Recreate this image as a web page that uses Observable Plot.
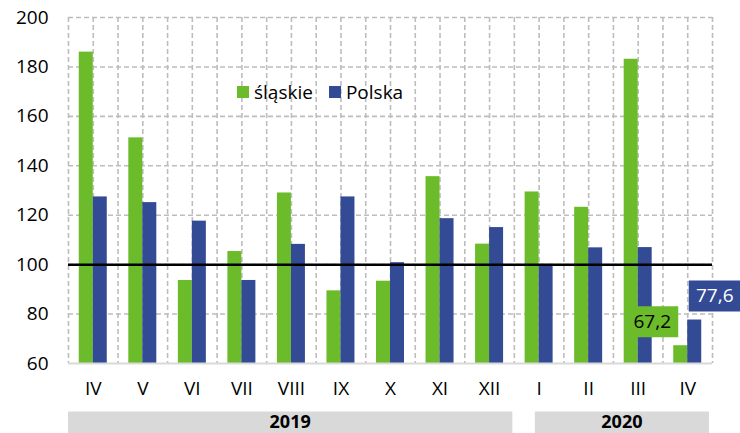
<!DOCTYPE html>
<html><head><meta charset="utf-8">
<script src="https://cdn.jsdelivr.net/npm/d3@7"></script>
<script src="https://cdn.jsdelivr.net/npm/@observablehq/plot@0.6"></script>
<style>
html,body{margin:0;padding:0;background:#fff;overflow:hidden;}
#wrap{position:relative;width:740px;height:433px;font-family:"Open Sans",sans-serif;}
.legend{position:absolute;left:237px;top:79px;display:flex;align-items:center;font-size:19px;color:#000;white-space:nowrap;}
.legend .sw{display:inline-block;width:12px;height:12px;margin-right:5px;}
.legend .it{display:flex;align-items:center;margin-right:16px;}
</style></head><body><div id="wrap"></div>
<script>
// ---- data ----
const months = ["IV","V","VI","VII","VIII","IX","X","XI","XII","I","II","III","IV"];
const years  = [2019,2019,2019,2019,2019,2019,2019,2019,2019,2020,2020,2020,2020];
const slaskie = [186.0,151.3,93.6,105.3,129.0,89.4,93.3,135.6,108.3,129.4,123.2,183.1,67.2];
const polska  = [127.4,125.1,117.6,93.6,108.2,127.4,100.8,118.6,115.0,100.1,106.8,106.9,77.6];
const seriesNames = ["śląskie","Polska"];
const seriesColors = ["#6bbb2b","#334a94"];
const yTicks = [60,80,100,120,140,160,180,200];
const referenceValue = 100;
const yearNames = [2019, 2020];

// ---- layout ----
const W = 740, H = 433;
const mL = 68, mR = 28, mT = 17, mB = 70;
const idx = d3.range(months.length);
const bw = (W - mL - mR) / months.length;
const barW = 14;
const rowsS = idx.map(i => ({i, v: slaskie[i]}));
const rowsP = idx.map(i => ({i, v: polska[i]}));
const last = months.length - 1;
const fmt = v => v.toFixed(1).replace(".", ",");
const boxSym = {draw(ctx){ ctx.rect(-26, -15.5, 52, 31); }};
const yMin = yTicks[0];
const gridStyle = {stroke: "#bdbdbd", strokeWidth: 1.6, strokeDasharray: "5,3"};

const svg = Plot.plot({
  width: W, height: H,
  marginLeft: mL, marginRight: mR, marginTop: mT, marginBottom: mB,
  style: {fontFamily: "Open Sans, sans-serif", fontSize: "19px", color: "#000", background: "#fff", overflow: "visible"},
  x: {type: "band", domain: idx, padding: 0, round: false, tickSize: 0, tickPadding: 18, tickFormat: i => months[i], label: null},
  y: {domain: [yTicks[0], yTicks[yTicks.length-1]], ticks: yTicks, tickSize: 0, tickPadding: 20, label: null},
  marks: [
    Plot.ruleY(yTicks.filter(t => t > yMin), {y: d => d, ...gridStyle}),
    Plot.ruleX(idx, {x: d => d, ...gridStyle}),
    Plot.ruleX(idx, {x: d => d, dx: -bw/2, ...gridStyle}),
    Plot.ruleX([last], {x: d => d, dx: bw/2, ...gridStyle}),
    Plot.barY(rowsS, {x: "i", y1: () => yMin, y2: "v", fill: seriesColors[0], insetLeft: bw/2 - barW, insetRight: bw/2}),
    Plot.barY(rowsP, {x: "i", y1: () => yMin, y2: "v", fill: seriesColors[1], insetLeft: bw/2, insetRight: bw/2 - barW}),
    Plot.ruleY([yMin], {stroke: "#d9d9d9", strokeWidth: 2}),
    Plot.ruleY([referenceValue], {stroke: "#000", strokeWidth: 2.5}),
    Plot.dot(rowsS.filter(d => d.i === last), {x: "i", y: "v", dx: -35.5, dy: -24, symbol: boxSym, fill: seriesColors[0], stroke: "none"}),
    Plot.text(rowsS.filter(d => d.i === last), {x: "i", y: "v", dx: -35.5, dy: -24, text: d => fmt(d.v), fill: "#000", fontSize: 19}),
    Plot.dot(rowsP.filter(d => d.i === last), {x: "i", y: "v", dx: 27, dy: -24, symbol: boxSym, fill: seriesColors[1], stroke: "none"}),
    Plot.text(rowsP.filter(d => d.i === last), {x: "i", y: "v", dx: 27, dy: -24, text: d => fmt(d.v), fill: "#fff", fontSize: 19})
  ]
});

// year bands under the month axis, positioned from the x scale
const sx = svg.scale("x");
const xStart = i => (sx.apply ? sx.apply(i) : sx.range[0] + i * bw);
const bandInset = {2019: [0, 1.5], 2020: [21, 3]};
const g = d3.select(svg).append("g");
yearNames.forEach(yr => {
  const ids = idx.filter(i => years[i] === yr);
  const x0 = xStart(ids[0]) + bandInset[yr][0];
  const x1 = xStart(ids[ids.length-1]) + bw - bandInset[yr][1];
  g.append("rect").attr("x", x0).attr("y", 411.5).attr("width", x1 - x0).attr("height", 30).attr("fill", "#d9d9d9");
  g.append("text").attr("x", (x0 + x1)/2).attr("y", 428).attr("text-anchor", "middle")
    .attr("font-weight", "bold").attr("font-size", 18).attr("fill", "#000").text(yr);
});

const wrap = document.getElementById("wrap");
wrap.appendChild(svg);
const leg = document.createElement("div");
leg.className = "legend";
seriesNames.forEach((n, k) => {
  const it = document.createElement("span"); it.className = "it";
  const sw = document.createElement("span"); sw.className = "sw"; sw.style.background = seriesColors[k];
  it.appendChild(sw); it.appendChild(document.createTextNode(n));
  leg.appendChild(it);
});
wrap.appendChild(leg);
</script>
</body></html>
